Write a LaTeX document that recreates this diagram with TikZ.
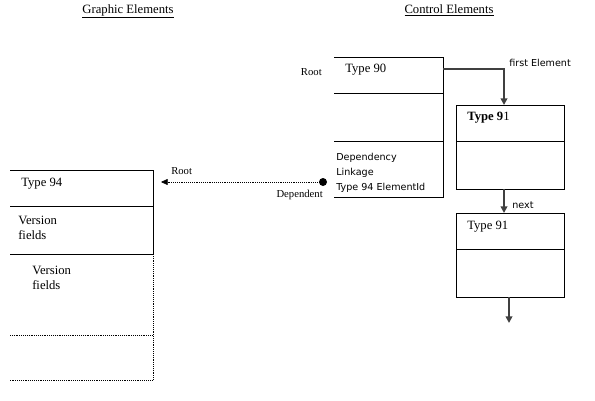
\documentclass[tikz,border=0pt]{standalone}
\usepackage{fontspec}
\setmainfont{Liberation Serif}
\newfontfamily\uisans{DejaVu Sans}
\usetikzlibrary{arrows.meta}

\begin{document}
\begin{tikzpicture}[x=0.75pt,y=-0.75pt,
  serif/.style={font=\fontsize{9.5}{11}\selectfont,anchor=west,inner sep=0pt},
  sans/.style={font=\uisans\fontsize{7.2}{11.25}\selectfont,anchor=west,inner sep=0pt,align=left},
  link/.style={draw=black!75,line width=1.3pt,-{Triangle[width=5pt,length=5pt]}}]
  \useasboundingbox (0,0) rectangle (595,400);
  % headings
  \node[serif,anchor=base] (hgraph) at (128,13) {\underline{Graphic Elements}};
  \node[serif,anchor=base] (hctrl) at (449,13) {\underline{Control Elements}};
  % the Type 90 block, open on its left
  \draw (334,57) -- (443,57) -- (443,197) -- (334,197);
  \draw (334,93) -- (443,93);
  \draw (334,141) -- (443,141);
  \node[serif] (t90) at (345,70) {Type 90};
  \node[serif,anchor=east] (root90) at (322,72) {\fontsize{8}{10}\selectfont Root};
  \node[sans] (deplink) at (336,173) {Dependency\\Linkage\\Type 94 ElementId};
  % the two Type 91 elements
  \foreach \y/\n in {105/a,213/b} {
    \draw (456,\y) rectangle (564,\y+84);
    \draw (456,\y+36) -- (564,\y+36);
    \coordinate (t91\n top) at (504,\y);
    \coordinate (t91\n bot) at (504,\y+84);
  }
  \node[serif] (t91a) at (467,118) {\textbf{Type 9}1};
  \node[serif] (t91b) at (467,227) {Type 91};
  \coordinate (t90e) at (443,69);
  \coordinate (t91bnext) at (509,297);
  \coordinate (tail) at (509,323);
  % links
  \draw[link] (t90e) -| (t91atop);
  \draw[link] (t91abot) -- (t91btop);
  \draw[link] (t91bnext) -- (tail);
  \node[sans] (first) at (509,63) {first Element};
  \node[sans] (next) at (512,205) {next};
  % the Type 94 block, open on its left
  \draw (10,170) -- (153,170) -- (153,254) -- (10,254);
  \draw (10,206) -- (153,206);
  \draw[densely dotted] (153,254) -- (153,380) -- (10,380);
  \draw[densely dotted] (10,335) -- (153,335);
  \node[serif] (t94) at (21,184) {Type 94};
  \node[serif,align=left] (ver1) at (18,228) {Version\\fields};
  \node[serif,align=left] (ver2) at (32,278) {Version\\fields};
  % dependency back to the root
  \coordinate (dep) at (323,182);
  \coordinate (root94) at (161,182);
  \fill (dep) circle (4);
  \draw[densely dotted,-{Triangle[width=4.5pt,length=5pt]}] (dep) -- (root94);
  \node[serif,font=\fontsize{8}{10}\selectfont] (rootlbl) at (171,171) {Root};
  \node[serif,font=\fontsize{8}{10}\selectfont,anchor=east] (deplbl) at (323,195) {Dependent};
\end{tikzpicture}
\end{document}
